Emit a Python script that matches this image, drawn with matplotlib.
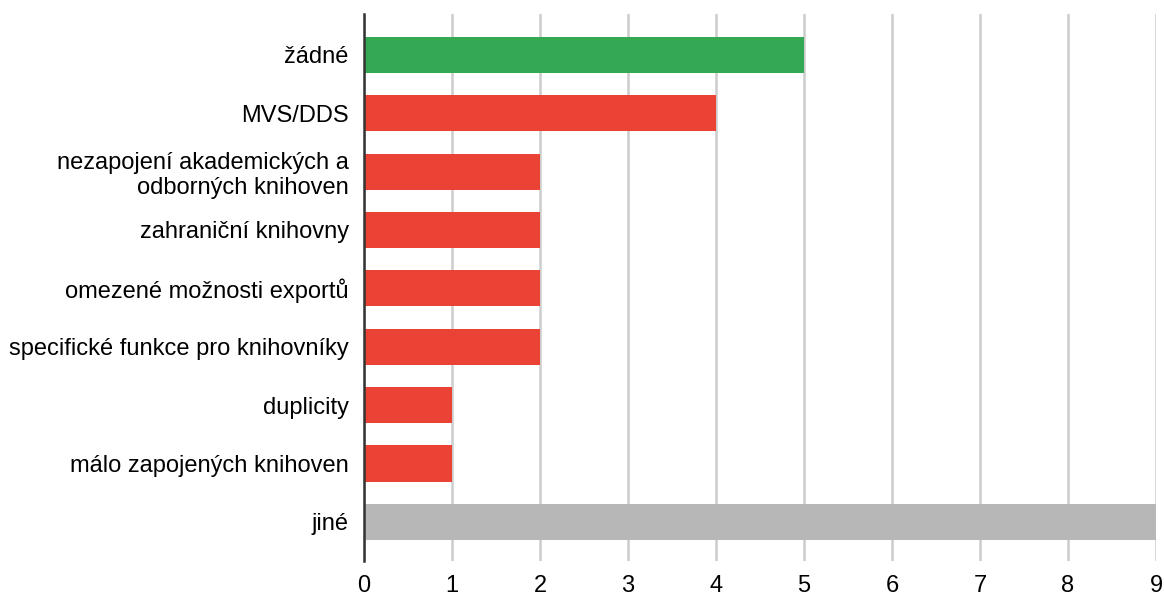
import matplotlib.pyplot as plt

categories = ["žádné", "MVS/DDS", "nezapojení akademických a\nodborných knihoven",
              "zahraniční knihovny", "omezené možnosti exportů",
              "specifické funkce pro knihovníky", "duplicity",
              "málo zapojených knihoven", "jiné"]
values = [5, 4, 2, 2, 2, 2, 1, 1, 9]
colors = ["#34A853", "#EA4335", "#EA4335", "#EA4335", "#EA4335",
          "#EA4335", "#EA4335", "#EA4335", "#B7B7B7"]

plt.rcParams['font.family'] = ['Liberation Sans', 'DejaVu Sans']

fig = plt.figure(figsize=(11.64, 5.94), dpi=100)
ax = fig.add_axes([0.3127, 0.0556, 0.6804, 0.9208])

pos = list(range(len(categories)))
ax.barh(pos, values, height=0.62, color=colors, zorder=3)
ax.set_ylim(8.67, -0.70)
ax.set_xlim(0, 9)
ax.set_xticks(range(10))
ax.set_yticks(pos)
ax.set_yticklabels(categories, fontsize=17, linespacing=1.15)
ax.tick_params(axis='x', labelsize=17, length=0, pad=10)
ax.tick_params(axis='y', length=0, pad=11)
ax.grid(axis='x', color='#cccccc', linewidth=1.8, zorder=0)
for s in ['top', 'right', 'bottom']:
    ax.spines[s].set_visible(False)
ax.spines['left'].set_color('#333333')
ax.spines['left'].set_linewidth(1.8)
ax.spines['left'].set_zorder(4)

fig.savefig("out.png", dpi=100)
